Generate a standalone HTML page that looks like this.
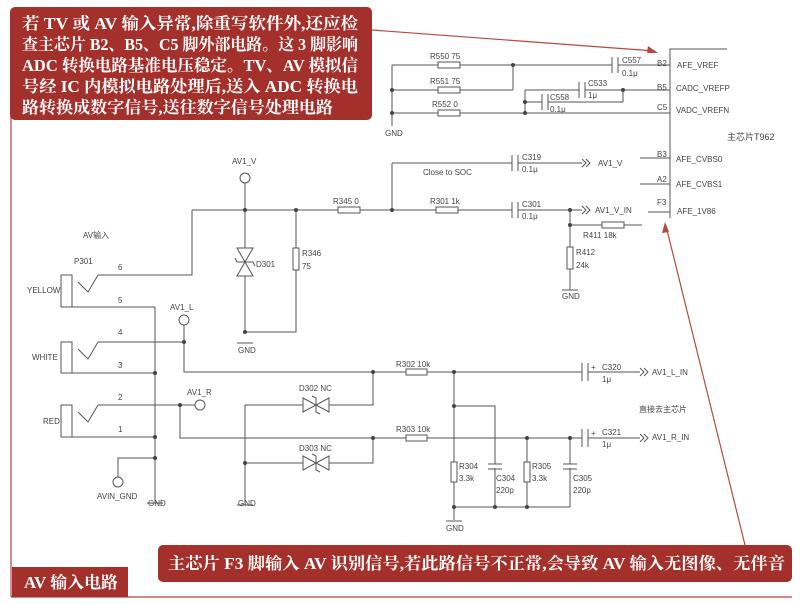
<!DOCTYPE html>
<html><head><meta charset="utf-8"><style>
body{margin:0;background:#fff;}
svg{display:block;}
.t{font-family:"Liberation Sans","Noto Sans CJK SC",sans-serif;font-size:8px;fill:#444;}
.w{font-family:"Liberation Serif","Noto Serif CJK SC","Noto Sans CJK SC",serif;font-weight:bold;font-size:16.5px;fill:#fff;}
</style></head><body>
<svg width="800" height="604" viewBox="0 0 800 604" xmlns="http://www.w3.org/2000/svg">
<rect width="800" height="604" fill="#fff"/>
<g stroke="#b84840" stroke-width="1.2" fill="none">
<line x1="11" y1="110" x2="11" y2="597"/>
<line x1="11" y1="597" x2="792" y2="597"/>
<line x1="372" y1="30" x2="655" y2="51"/>
<line x1="745" y1="545" x2="666" y2="226"/>
</g>
<polygon points="658,53 648,46 647,53" fill="#b84840"/>
<polygon points="665,222 662,233 669,232" fill="#b84840"/>
<rect x="10" y="7" width="362" height="113" rx="5" fill="#a3302b"/>
<text class="w" x="22" y="29" textLength="336" lengthAdjust="spacingAndGlyphs">若 TV 或 AV 输入异常,除重写软件外,还应检</text>
<text class="w" x="22" y="50" textLength="336" lengthAdjust="spacingAndGlyphs">查主芯片 B2、B5、C5 脚外部电路。这 3 脚影响</text>
<text class="w" x="22" y="71" textLength="336" lengthAdjust="spacingAndGlyphs">ADC 转换电路基准电压稳定。TV、AV 模拟信</text>
<text class="w" x="22" y="92" textLength="336" lengthAdjust="spacingAndGlyphs">号经 IC 内模拟电路处理后,送入 ADC 转换电</text>
<text class="w" x="22" y="113" textLength="311" lengthAdjust="spacingAndGlyphs">路转换成数字信号,送往数字信号处理电路</text>
<rect x="158" y="545" width="634" height="37" rx="5" fill="#a3302b"/>
<text class="w" x="168" y="569" textLength="617" lengthAdjust="spacingAndGlyphs">主芯片 F3 脚输入 AV 识别信号,若此路信号不正常,会导致 AV 输入无图像、无伴音</text>
<rect x="12" y="567" width="116" height="30" fill="#a3302b"/>
<text class="w" x="24" y="588" textLength="94" lengthAdjust="spacingAndGlyphs">AV 输入电路</text>

<g stroke="#555" stroke-width="1" fill="none">
<polyline points="727,49 670,49 670,218"/>
<line x1="392" y1="65" x2="612" y2="65"/><line x1="618" y1="65" x2="670" y2="65"/>
<line x1="392" y1="65" x2="392" y2="126"/>
<line x1="392" y1="90" x2="513" y2="90"/><line x1="513" y1="65" x2="513" y2="90"/>
<line x1="392" y1="113" x2="670" y2="113"/>
<line x1="525" y1="90" x2="525" y2="113"/>
<line x1="525" y1="90" x2="579" y2="90"/><line x1="585" y1="90" x2="670" y2="90"/>
<line x1="525" y1="102" x2="542" y2="102"/><line x1="548" y1="102" x2="623" y2="102"/><line x1="623" y1="90" x2="623" y2="102"/>
<line x1="612" y1="57" x2="612" y2="73"/><line x1="618" y1="57" x2="618" y2="73"/>
<line x1="579" y1="82" x2="579" y2="98"/><line x1="585" y1="82" x2="585" y2="98"/>
<line x1="542" y1="94" x2="542" y2="110"/><line x1="548" y1="94" x2="548" y2="110"/>
<line x1="640" y1="158" x2="670" y2="158"/><line x1="640" y1="184" x2="670" y2="184"/><line x1="648" y1="212" x2="670" y2="212"/>
<line x1="192" y1="210" x2="512" y2="210"/><line x1="518" y1="210" x2="582" y2="210"/>
<line x1="392" y1="163" x2="512" y2="163"/><line x1="518" y1="163" x2="582" y2="163"/><line x1="392" y1="163" x2="392" y2="210"/>
<line x1="512" y1="155" x2="512" y2="171"/><line x1="518" y1="155" x2="518" y2="171"/>
<line x1="512" y1="202" x2="512" y2="218"/><line x1="518" y1="202" x2="518" y2="218"/>
<polyline points="582,159 586,163 582,167"/><polyline points="586,159 590,163 586,167"/>
<polyline points="582,206 586,210 582,214"/><polyline points="586,206 590,210 586,214"/>
<polyline points="570,210 570,290"/><line x1="570" y1="225" x2="642" y2="225"/>
<line x1="562" y1="290" x2="578" y2="290"/>
<line x1="245" y1="183" x2="245" y2="332"/><polyline points="245,332 296,332 296,210"/>
<line x1="237" y1="343" x2="253" y2="343"/>
<polyline points="192,210 192,275 98,275"/>
<rect x="61" y="275" width="11" height="32"/><rect x="61" y="342" width="11" height="31"/><rect x="61" y="405" width="11" height="32"/>
<polyline points="78,282 88,292 98,275"/><polyline points="78,349 88,359 98,342"/><polyline points="78,412 88,422 98,405"/>
<line x1="72" y1="307" x2="155" y2="307"/><line x1="155" y1="307" x2="155" y2="503"/>
<line x1="98" y1="342" x2="184" y2="342"/><line x1="72" y1="373" x2="155" y2="373"/>
<line x1="98" y1="405" x2="195" y2="405"/><line x1="72" y1="437" x2="155" y2="437"/>
<polyline points="155,458 118,458 118,477"/>
<line x1="147" y1="503" x2="163" y2="503"/>
<polyline points="184,325 184,372 582,372"/><polyline points="180,405 180,438 582,438"/>
<line x1="588" y1="372" x2="640" y2="372"/><line x1="588" y1="438" x2="640" y2="438"/>
<line x1="582" y1="363" x2="582" y2="381"/><line x1="588" y1="363" x2="588" y2="381"/>
<line x1="582" y1="429" x2="582" y2="447"/><line x1="588" y1="429" x2="588" y2="447"/>
<polyline points="640,368 644,372 640,376"/><polyline points="644,368 648,372 644,376"/>
<polyline points="640,434 644,438 640,442"/><polyline points="644,434 648,438 644,442"/>
<polyline points="245,505 245,405 373,405 373,372"/><polyline points="245,463 373,463 373,438"/>
<line x1="237" y1="505" x2="253" y2="505"/>
<line x1="454" y1="372" x2="454" y2="520"/><polyline points="454,406 495,406 495,507"/>
<line x1="454" y1="507" x2="570" y2="507"/><line x1="527" y1="438" x2="527" y2="507"/><line x1="570" y1="438" x2="570" y2="507"/>
<line x1="446" y1="521" x2="462" y2="521"/>
<circle cx="245" cy="178" r="5" fill="#fff"/><circle cx="184" cy="320" r="5" fill="#fff"/><circle cx="200" cy="405" r="5" fill="#fff"/><circle cx="118" cy="482" r="5" fill="#fff"/>
</g>
<g fill="#fff"><rect x="488" y="464" width="14" height="4"/><rect x="563" y="464" width="14" height="4"/></g>
<g stroke="#555"><line x1="488" y1="464" x2="502" y2="464"/><line x1="488" y1="469" x2="502" y2="469"/><line x1="563" y1="464" x2="577" y2="464"/><line x1="563" y1="469" x2="577" y2="469"/></g>
<g fill="#fff" stroke="#555">
<rect x="438" y="62" width="22" height="6"/><rect x="438" y="87" width="22" height="6"/><rect x="438" y="110" width="22" height="6"/>
<rect x="338" y="207" width="22" height="6"/><rect x="436" y="207" width="22" height="6"/><rect x="602" y="222" width="22" height="6"/>
<rect x="567" y="247" width="6" height="22"/><rect x="293" y="248" width="6" height="22"/>
<rect x="406" y="369" width="21" height="6"/><rect x="406" y="435" width="21" height="6"/>
<rect x="451" y="462" width="6" height="20"/><rect x="524" y="462" width="6" height="20"/>
</g>
<g stroke="#555" fill="#fff">
<polygon points="237,248 253,248 245,262"/><polygon points="237,276 253,276 245,262"/>
<polygon points="303,398 303,412 316,405"/><polygon points="329,398 329,412 316,405"/>
<polygon points="303,456 303,470 316,463"/><polygon points="329,456 329,470 316,463"/>
</g>
<g stroke="#555" fill="none"><polyline points="235,258 237,262 253,262 255,266"/><polyline points="312,396 316,398 316,412 320,414"/><polyline points="312,454 316,456 316,470 320,472"/></g>
<g fill="#444">
<circle cx="392" cy="90" r="2"/><circle cx="392" cy="113" r="2"/><circle cx="513" cy="65" r="2"/><circle cx="525" cy="113" r="2"/><circle cx="525" cy="102" r="2"/><circle cx="623" cy="90" r="2"/>
<circle cx="392" cy="210" r="2"/><circle cx="570" cy="210" r="2"/><circle cx="570" cy="225" r="2"/>
<circle cx="245" cy="210" r="2"/><circle cx="296" cy="210" r="2"/><circle cx="245" cy="332" r="2"/>
<circle cx="184" cy="342" r="2"/><circle cx="155" cy="373" r="2"/><circle cx="180" cy="405" r="2"/><circle cx="155" cy="437" r="2"/><circle cx="155" cy="458" r="2"/>
<circle cx="373" cy="372" r="2"/><circle cx="373" cy="438" r="2"/><circle cx="245" cy="463" r="2"/>
<circle cx="454" cy="372" r="2"/><circle cx="454" cy="406" r="2"/><circle cx="527" cy="438" r="2"/><circle cx="570" cy="438" r="2"/>
<circle cx="454" cy="507" r="2"/><circle cx="495" cy="507" r="2"/><circle cx="527" cy="507" r="2"/>
</g>
<g class="t">
<text x="430" y="59">R550 75</text><text x="430" y="84">R551 75</text><text x="432" y="107">R552 0</text>
<text x="622" y="63">C557</text><text x="622" y="76">0.1μ</text><text x="588" y="86">C533</text><text x="588" y="98">1μ</text>
<text x="550" y="100">C558</text><text x="550" y="112">0.1μ</text>
<text x="385" y="136">GND</text>
<text x="657" y="66">B2</text><text x="677" y="68">AFE_VREF</text>
<text x="657" y="90">B5</text><text x="676" y="91">CADC_VREFP</text>
<text x="657" y="110">C5</text><text x="676" y="113">VADC_VREFN</text>
<text x="727" y="140" font-size="9">主芯片T962</text>
<text x="657" y="157">B3</text><text x="676" y="162">AFE_CVBS0</text>
<text x="657" y="182">A2</text><text x="676" y="187">AFE_CVBS1</text>
<text x="657" y="205">F3</text><text x="677" y="214">AFE_1V86</text>
<text x="522" y="160">C319</text><text x="522" y="172">0.1μ</text>
<text x="598" y="166">AV1_V</text><text x="423" y="175">Close to SOC</text>
<text x="430" y="204">R301 1k</text><text x="522" y="207">C301</text><text x="522" y="219">0.1μ</text>
<text x="595" y="213">AV1_V_IN</text><text x="583" y="238">R411 18k</text>
<text x="576" y="255">R412</text><text x="576" y="268">24k</text><text x="562" y="299">GND</text>
<text x="232" y="164">AV1_V</text><text x="333" y="204">R345 0</text>
<text x="256" y="267">D301</text><text x="302" y="256">R346</text><text x="302" y="269">75</text>
<text x="238" y="353">GND</text>
<text x="83" y="238">AV输入</text><text x="74" y="264">P301</text>
<text x="27" y="293">YELLOW</text><text x="32" y="360">WHITE</text><text x="43" y="424">RED</text>
<text x="118" y="270">6</text><text x="118" y="303">5</text><text x="118" y="335">4</text><text x="118" y="368">3</text><text x="118" y="400">2</text><text x="118" y="432">1</text>
<text x="170" y="310">AV1_L</text><text x="187" y="395">AV1_R</text>
<text x="97" y="499">AVIN_GND</text><text x="148" y="506">GND</text><text x="238" y="506">GND</text>
<text x="299" y="391">D302 NC</text><text x="299" y="451">D303 NC</text>
<text x="396" y="367">R302 10k</text><text x="396" y="432">R303 10k</text>
<text x="591" y="370">+</text><text x="602" y="370">C320</text><text x="602" y="382">1μ</text>
<text x="591" y="436">+</text><text x="602" y="435">C321</text><text x="602" y="447">1μ</text>
<text x="652" y="375">AV1_L_IN</text><text x="652" y="440">AV1_R_IN</text>
<text x="639" y="412">直接去主芯片</text>
<text x="459" y="469">R304</text><text x="459" y="481">3.3k</text><text x="496" y="481">C304</text><text x="496" y="493">220p</text>
<text x="532" y="469">R305</text><text x="532" y="481">3.3k</text><text x="573" y="481">C305</text><text x="573" y="493">220p</text>
<text x="446" y="531">GND</text>
</g>
</svg>
</body></html>
